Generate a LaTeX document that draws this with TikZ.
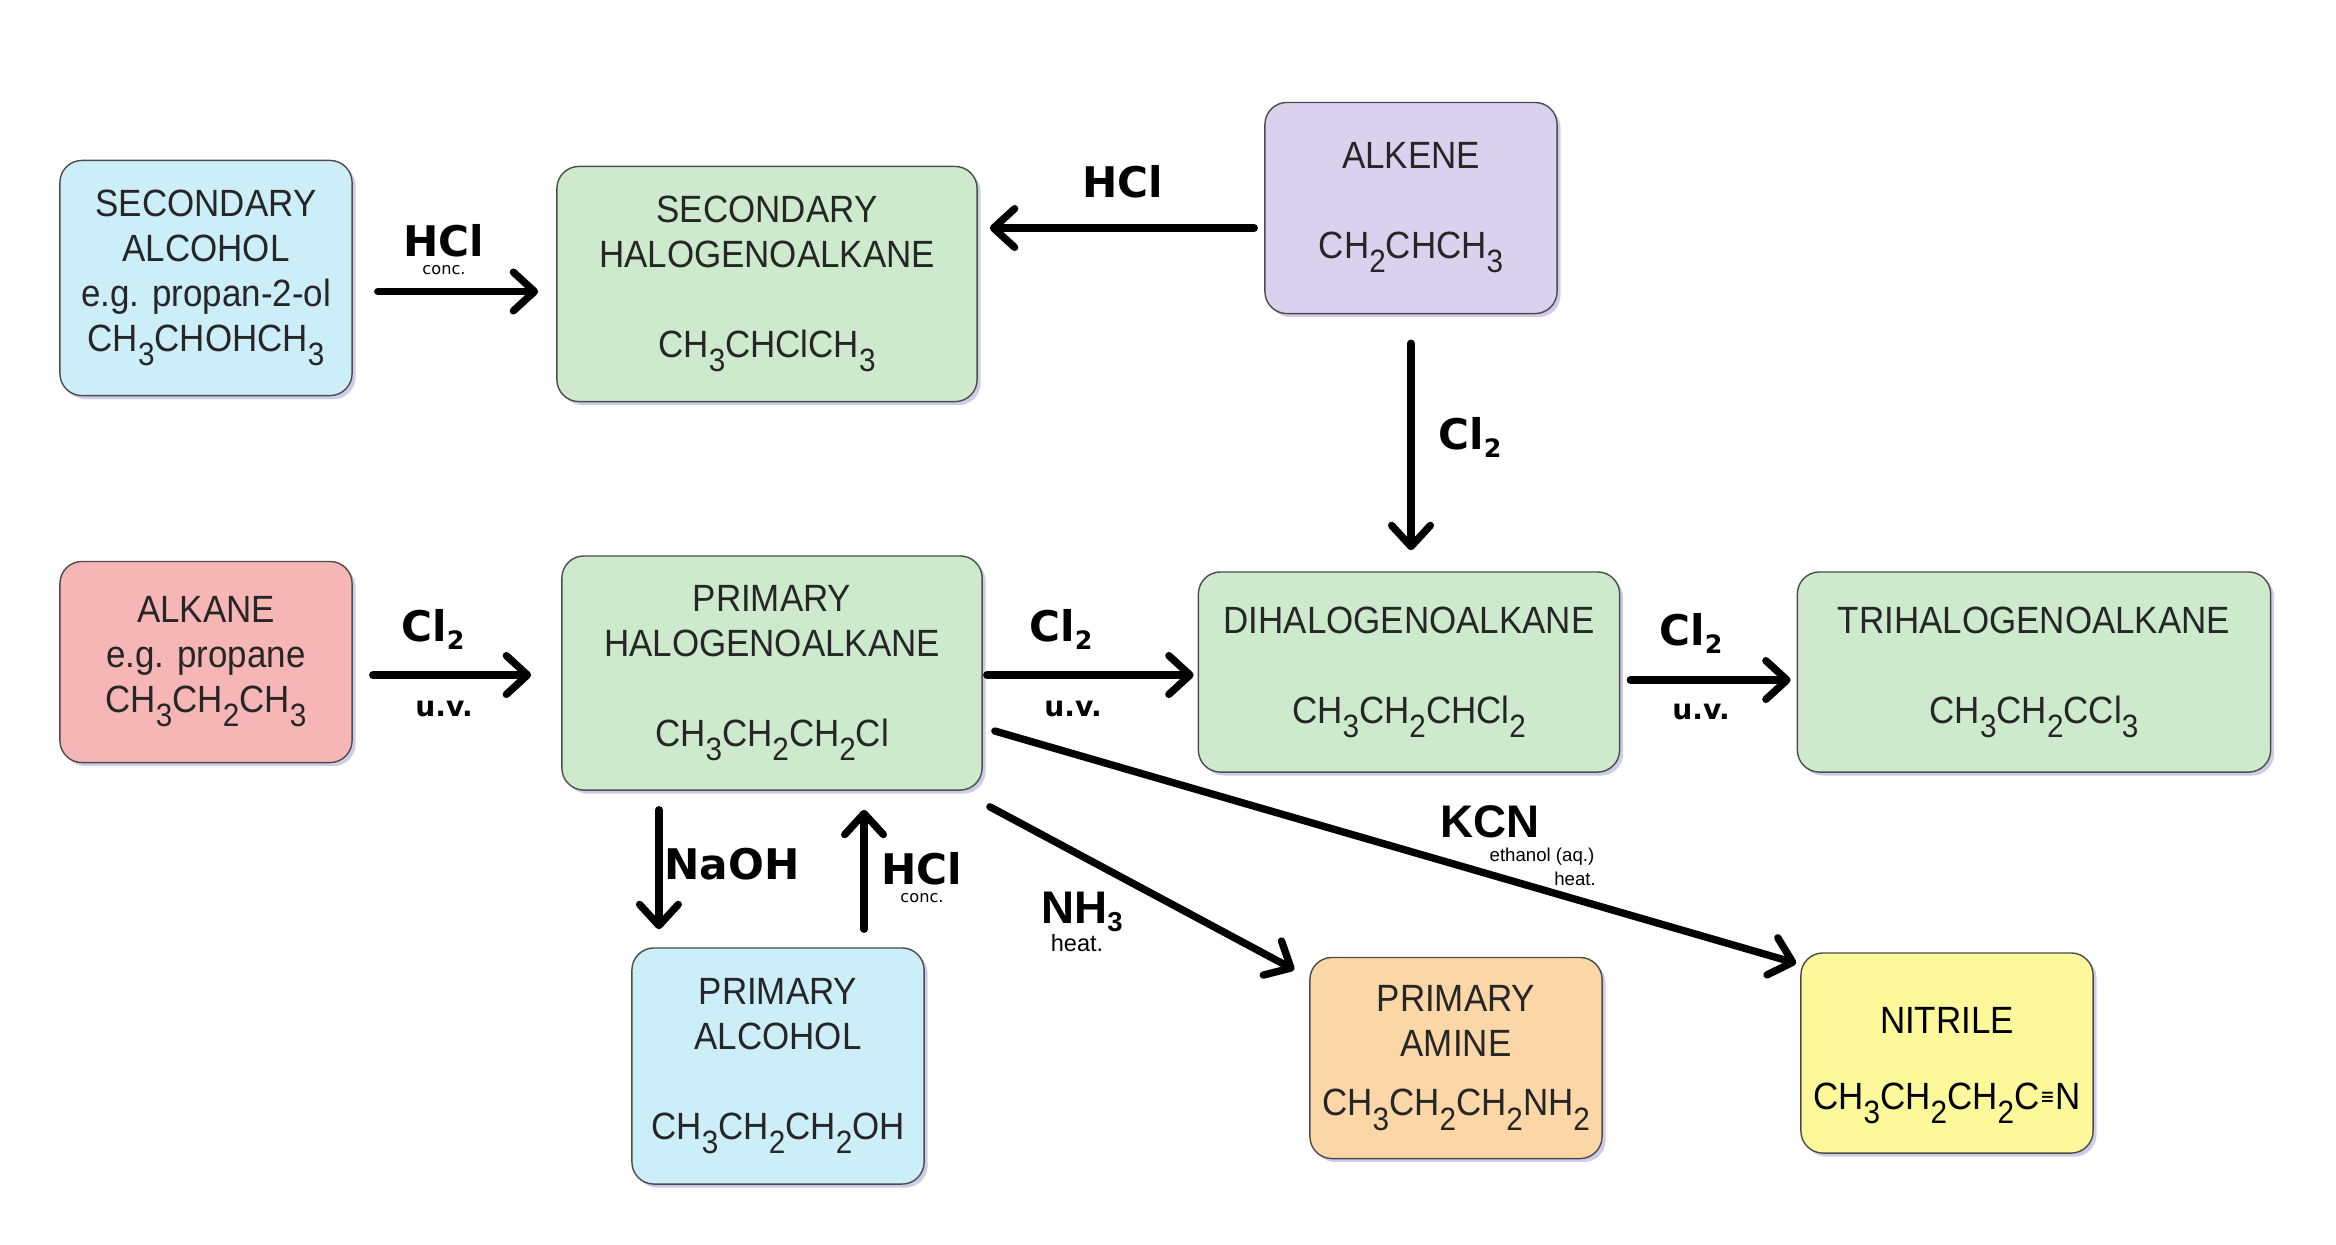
\documentclass[tikz,border=0pt]{standalone}
\usepackage{fontspec}
\setmainfont{Liberation Sans}
\newfontfamily\boxfont[FakeStretch=0.92]{Liberation Sans}
\newfontfamily\labfont{DejaVu Sans}
\usetikzlibrary{shapes,arrows.meta,shadows}
\definecolor{alccol}{HTML}{CCEEF9}
\definecolor{halcol}{HTML}{CDEBCC}
\definecolor{enecol}{HTML}{D9D2EE}
\definecolor{anecol}{HTML}{F7B6B6}
\definecolor{aminecol}{HTML}{FBD7A8}
\definecolor{nitcol}{HTML}{FDF99A}
\tikzstyle{block} = [rectangle, draw=black!70, thin, rounded corners=0.22cm,
    align=center, text=black!85, inner sep=0pt,
    font=\boxfont\fontsize{10.8}{12.8}\selectfont,
    drop shadow={shadow xshift=0.035cm, shadow yshift=-0.035cm, fill=blue!40!gray!70, opacity=0.4}]
\tikzstyle{line} = [draw, line width=2.1pt, line cap=round, line join=round,
    -{Straight Barb[length=6pt, width=11pt, round]}]
\tikzstyle{reagent} = [font=\labfont\bfseries\fontsize{12}{12}\selectfont, inner sep=0pt]
\tikzstyle{bigreagent} = [font=\bfseries\fontsize{13}{13}\selectfont, inner sep=0pt]
\tikzstyle{uv} = [font=\labfont\bfseries\fontsize{8}{8}\selectfont, inner sep=0pt]
\tikzstyle{cond} = [font=\labfont\fontsize{4.6}{5}\selectfont, inner sep=0pt]
\tikzstyle{smallcond} = [font=\fontsize{5.3}{6}\selectfont, inner sep=0pt]
\newcommand{\chsub}[1]{\raisebox{-0.7ex}{\scalebox{0.85}{#1}}}
\newcommand{\lsub}[1]{\raisebox{-0.35ex}{\scalebox{0.6}{#1}}}
\newcommand{\triplebond}{\kern0.3pt\raisebox{0.25ex}{\scalebox{0.45}[0.6]{\labfont ≡}}\kern0.3pt}

\begin{document}
\begin{tikzpicture}[x=0.01cm, y=-0.01cm]
  \useasboundingbox (0,0) rectangle (2336,1244);
  % compounds
  \node [block, fill=alccol, minimum width=2.92cm, minimum height=2.35cm] (alc2) at (206,278)
    {SECONDARY\\ALCOHOL\\e.g. propan-2-ol\\CH\chsub{3}CHOHCH\chsub{3}};
  \node [block, fill=halcol, minimum width=4.2cm, minimum height=2.35cm] (hal2) at (767,284)
    {SECONDARY\\HALOGENOALKANE\\[12.8pt]CH\chsub{3}CHClCH\chsub{3}};
  \node [block, fill=enecol, minimum width=2.92cm, minimum height=2.11cm] (alkene) at (1411,208)
    {ALKENE\\[12.8pt]CH\chsub{2}CHCH\chsub{3}};
  \node [block, fill=anecol, minimum width=2.92cm, minimum height=2.01cm] (alkane) at (206,662)
    {ALKANE\\e.g. propane\\CH\chsub{3}CH\chsub{2}CH\chsub{3}};
  \node [block, fill=halcol, minimum width=4.2cm, minimum height=2.34cm] (hal1) at (772,673)
    {PRIMARY\\HALOGENOALKANE\\[12.8pt]CH\chsub{3}CH\chsub{2}CH\chsub{2}Cl};
  \node [block, fill=halcol, minimum width=4.21cm, minimum height=2.0cm] (dihal) at (1409,672)
    {DIHALOGENOALKANE\\[12.8pt]CH\chsub{3}CH\chsub{2}CHCl\chsub{2}};
  \node [block, fill=halcol, minimum width=4.73cm, minimum height=2.0cm] (trihal) at (2034,672)
    {TRIHALOGENOALKANE\\[12.8pt]CH\chsub{3}CH\chsub{2}CCl\chsub{3}};
  \node [block, fill=alccol, minimum width=2.92cm, minimum height=2.36cm] (alc1) at (778,1066)
    {PRIMARY\\ALCOHOL\\[12.8pt]CH\chsub{3}CH\chsub{2}CH\chsub{2}OH};
  \node [block, fill=aminecol, minimum width=2.92cm, minimum height=2.01cm] (amine) at (1456,1058)
    {PRIMARY\\AMINE\\[4pt]CH\chsub{3}CH\chsub{2}CH\chsub{2}NH\chsub{2}};
  \node [block, fill=nitcol, text=black, minimum width=2.92cm, minimum height=2.0cm] (nitrile) at (1947,1053)
    {\rule{0pt}{14.5pt}NITRILE\\[9pt]CH\chsub{3}CH\chsub{2}CH\chsub{2}C\triplebond N};
  % reactions
  \path [line, shorten <=0.25cm, shorten >=0.18cm] ([yshift=-0.135cm]alc2.east) -- ([yshift=-0.135cm]alc2.east -| hal2.west);
  \path [line, shorten <=0.1cm, shorten >=0.12cm] ([yshift=-0.2cm]alkene.west) -- ([yshift=-0.2cm]alkene.west -| hal2.east);
  \path [line, shorten <=0.29cm, shorten >=0.21cm] (alkene.south) -- (alkene.south |- dihal.north);
  \path [line, shorten <=0.2cm, shorten >=0.3cm] ([yshift=-0.13cm]alkane.east) -- ([yshift=-0.13cm]alkane.east -| hal1.west);
  \path [line, shorten <=0.04cm, shorten >=0.04cm] ([yshift=-0.02cm]hal1.east) -- ([yshift=-0.02cm]hal1.east -| dihal.west);
  \path [line, shorten <=0.1cm, shorten >=0.06cm] ([yshift=-0.08cm]dihal.east) -- ([yshift=-0.08cm]dihal.east -| trihal.west);
  \path [line, shorten <=0.19cm, shorten >=0.18cm] ([xshift=-1.13cm]hal1.south) -- ([xshift=-1.13cm]hal1.south |- alc1.north);
  \path [line, shorten <=0.18cm, shorten >=0.19cm] ([xshift=0.86cm]alc1.north) -- ([xshift=0.86cm]alc1.north |- hal1.south);
  \path [line] ([shift={(7,16)}]hal1.south east) -- ([shift={(-15,13)}]amine.north west);
  \path [line] ([shift={(12,58)}]hal1.east) -- ([shift={(-4,11)}]nitrile.north west);
  % reagents
  \node [reagent] (hcl1) at (444,241) {HCl};
  \node [cond] (conc1) at (444,270) {conc.};
  \node [reagent] (hcl2) at (1123,182) {HCl};
  \node [reagent] (cl1) at (1470,437) {Cl\lsub{2}};
  \node [reagent] (cl2) at (433,629) {Cl\lsub{2}};
  \node [uv] (uv2) at (444,709) {u.v.};
  \node [reagent] (cl3) at (1061,629) {Cl\lsub{2}};
  \node [uv] (uv3) at (1073,709) {u.v.};
  \node [reagent] (cl4) at (1691,633) {Cl\lsub{2}};
  \node [uv] (uv4) at (1701,712) {u.v.};
  \node [reagent] (naoh) at (732,864) {NaOH};
  \node [reagent] (hcl3) at (922,869) {HCl};
  \node [cond] (conc3) at (922,898) {conc.};
  \node [bigreagent] (nh3) at (1082,912) {NH\lsub{3}};
  \node [font=\fontsize{6.7}{7}\selectfont, inner sep=0pt] (heat1) at (1077,943) {heat.};
  \node [bigreagent] (kcn) at (1490,822) {KCN};
  \node [smallcond] (etoh) at (1542,857) {ethanol (aq.)};
  \node [smallcond] (heat2) at (1575,879) {heat.};
\end{tikzpicture}
\end{document}
